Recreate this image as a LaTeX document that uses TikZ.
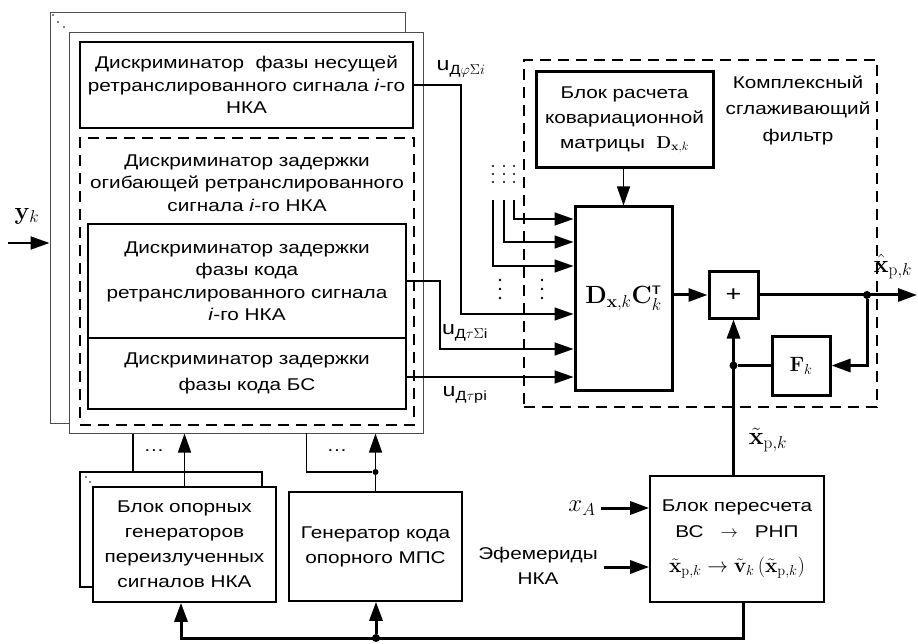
\documentclass[tikz,border=0pt]{standalone}
\usepackage{amsmath}
\usepackage[no-math]{fontspec}
\setmainfont{Liberation Sans}[FakeStretch=1.22]
\usetikzlibrary{arrows.meta,positioning}

\begin{document}
\begin{tikzpicture}[x=1pt,y=-1pt,>={Triangle[length=19pt,width=13pt]},
    font=\fontsize{17}{22.5}\selectfont,
    frame/.style={draw=black!70,line width=1pt,inner sep=0pt},
    block node/.style={draw,line width=1.6pt,inner sep=0pt,align=center},
    heavy node/.style={draw,line width=3pt,inner sep=0pt,align=center},
    dash node/.style={draw,line width=2pt,dash pattern=on 11pt off 7pt,inner sep=0pt},
    wire/.style={line width=1.4pt},
    heavy wire/.style={line width=3pt},
    dot/.style={circle,fill,inner sep=0pt,minimum size=8pt},
    math label/.style={font=\fontsize{23}{24}\selectfont}]

  \useasboundingbox (0,0) rectangle (918,644);

  \node[frame,minimum width=355pt,minimum height=410pt] (back) at (227.5,218) {};
  \node[frame,fill=white,minimum width=354pt,minimum height=400pt] (front) at (246,233) {};
  \foreach \x/\y in {53/15,58/22,64/27} \fill (\x,\y) circle (0.9);

  \node[block node,line width=2.2pt,minimum width=333pt,minimum height=86pt] (phase) at (246.5,85)
    {Дискриминатор\ \ фазы несущей\\ретранслированного сигнала \textit{i}-го\\НКА};
  \node[dash node,minimum width=334pt,minimum height=287pt] (env) at (247,281.5) {};
  \node[align=center] (envtext) at (247,183)
    {Дискриминатор задержки\\огибающей ретранслированного\\сигнала \textit{i}-го НКА};
  \node[block node,minimum width=318pt,minimum height=114pt] (tau) at (247,281)
    {Дискриминатор задержки\\фазы кода\\ретранслированного сигнала\\\textit{i}-го НКА};
  \node[block node,minimum width=318pt,minimum height=71pt,font=\fontsize{17}{26}\selectfont] (taubs) at (247,373.5)
    {Дискриминатор задержки\\фазы кода БС};

  \node[math label] (yk) at (27,216) {$\mathbf{y}_k$};
  \coordinate (yin) at (8,243);
  \draw[line width=2pt,->] (yin) -- (yin -| back.west);

  \node[dash node,minimum width=353pt,minimum height=347pt] (filter) at (700.5,233.5) {};
  \node[align=center,font=\fontsize{17}{26.5}\selectfont] (filtertext) at (798,110)
    {Комплексный\\сглаживающий\\фильтр};
  \node[heavy node,minimum width=177pt,minimum height=96pt,font=\fontsize{17}{25}\selectfont] (kov) at (624.5,120)
    {Блок расчета\\ковариационной\\матрицы\ \ $\mathbf{D}_{\mathbf{x},k}$};
  \node[heavy node,minimum width=97pt,minimum height=183pt,font=\fontsize{23}{24}\selectfont] (D) at (623.5,298.5)
    {$\mathbf{D}_{\mathbf{x},k}\mathbf{C}^{\text{т}}_{k}$};
  \node[heavy node,minimum width=49pt,minimum height=46pt,font=\fontsize{22}{24}\selectfont] (plus) at (733.5,295) {+};
  \node[heavy node,minimum width=58pt,minimum height=59pt,font=\fontsize{22}{24}\selectfont] (F) at (801,365.5) {$\mathbf{F}_k$};

  \node[block node,minimum width=174pt,minimum height=126pt,font=\fontsize{17}{26}\selectfont] (recalc) at (737,539)
    {Блок пересчета\\ВС\quad$\rightarrow$\quad РНП\\[9pt]
     {\fontsize{21}{24}\selectfont$\tilde{\mathbf{x}}_{\mathrm{p},k}\rightarrow\tilde{\mathbf{v}}_k\left(\tilde{\mathbf{x}}_{\mathrm{p},k}\right)$}};
  \node[block node,minimum width=182pt,minimum height=115pt] (opb) at (171,529.5) {};
  \foreach \x/\y in {86/477,90/482} \fill (\x,\y) circle (0.8);
  \node[block node,fill=white,minimum width=183pt,minimum height=115pt,font=\fontsize{17}{25}\selectfont] (opf) at (184.5,544.5)
    {Блок опорных\\генераторов\\переизлученных\\сигналов НКА};
  \node[block node,minimum width=173pt,minimum height=109pt,font=\fontsize{17}{25}\selectfont] (gen) at (375.5,546.5)
    {Генератор кода\\опорного МПС};

  % discriminator outputs
  \draw[wire,->] (phase.east) -- ++(47,0) |- (D.west |- 0,314);
  \draw[wire,->] (tau.east) -- ++(33,0) |- (D.west |- 0,349);
  \draw[wire,->] (taubs.east |- 0,377) -- (D.west |- 0,377);
  \node[font=\fontsize{19}{22}\selectfont] (uphi) at (461,69) {u$_{\text{Д}\varphi\Sigma i}$};
  \node[font=\fontsize{19}{22}\selectfont] (utsum) at (465,333) {u$_{\text{Д}\tau\Sigma\text{i}}$};
  \node[font=\fontsize{19}{22}\selectfont] (utp) at (465,395) {u$_{\text{Д}\tau\text{pi}}$};

  \foreach \x/\y [count=\i] in {514/219,504/242,493/266} {
    \coordinate (in\i) at (\x,200);
    \draw[wire,->] (in\i) |- (D.west |- 0,\y);
    \foreach \yy in {166,174,182} \fill (\x,\yy) circle (1.2);
  }
  \foreach \x in {500,542} \foreach \yy in {280,289,298} \fill (\x,\yy) circle (1.4);

  \draw[wire,->] (kov.south -| D.north) -- (D.north);
  \draw[heavy wire,->] (D.east |- plus.west) -- (plus.west);

  % output and feedback
  \coordinate (out) at (917,295);
  \node[dot] (tap) at (867,295) {};
  \draw[heavy wire,->] (plus.east) -- (out);
  \draw[heavy wire,->] (tap) |- (F.east);
  \node[dot] (jn) at (plus.south |- F.west) {};
  \draw[heavy wire] (F.west) -- (jn);
  \draw[heavy wire,->] (recalc.north -| plus.south) -- (plus.south);
  \node[math label] (xhat) at (893,267) {$\hat{\mathbf{x}}_{\mathrm{p},k}$};
  \node[math label] (xtil) at (768,440) {$\tilde{\mathbf{x}}_{\mathrm{p},k}$};

  % recalculation inputs
  \node[math label] (xa) at (582,508) {$x_A$};
  \draw[heavy wire,->] ([xshift=2pt]xa.east) -- (recalc.west |- xa.east);
  \node[align=center,font=\fontsize{17}{25}\selectfont] (eph) at (538,566) {Эфемериды\\НКА};
  \draw[heavy wire,->] ([xshift=3pt]eph.east |- 0,567) -- (recalc.west |- 0,567);

  % reference generators
  \coordinate (bl) at (181,638);
  \node[dot] (bdot) at (376,638) {};
  \draw[heavy wire,->] ([xshift=6pt]recalc.south) |- (bl) -- (bl |- opf.south);
  \draw[heavy wire,->] (bdot) -- (bdot |- gen.south);
  \draw[wire] ([xshift=-38pt]opb.north) -- ([xshift=-38pt]opb.north |- front.south);
  \draw[wire,->] (opf.north) -- (opf.north |- front.south);
  \node[dot,minimum size=6pt] (gdot) at (gen.north |- 0,472) {};
  \draw[wire] (gen.north) -- (gdot) -- ++(-69,0) -- ++(0,-39);
  \draw[wire,->] (gdot) -- (gdot |- front.south);
  \node (dots1) at (154,451) {\dots};
  \node (dots2) at (337,451) {\dots};
\end{tikzpicture}
\end{document}
